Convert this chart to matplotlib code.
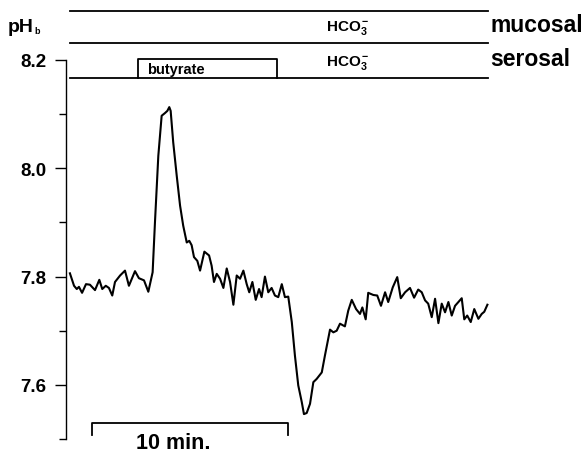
import matplotlib
matplotlib.use('Agg')
import matplotlib.pyplot as plt
from matplotlib.ticker import MultipleLocator

plt.rcParams['font.family'] = ['Liberation Sans', 'DejaVu Sans']
plt.rcParams['mathtext.fontset'] = 'custom'
plt.rcParams['mathtext.rm'] = 'Liberation Sans:bold'
plt.rcParams['mathtext.it'] = 'Liberation Sans:bold'
plt.rcParams['mathtext.bf'] = 'Liberation Sans:bold'

# time (min) and pH of the bath
time_min = [0.20, 0.41, 0.55, 0.66, 0.82, 1.02, 1.22, 1.48, 1.70, 1.85, 2.03, 2.19, 2.36, 2.50,
            2.76, 3.01, 3.21, 3.52, 3.72, 3.98, 4.20, 4.42, 4.54, 4.71, 4.88, 5.05, 5.17, 5.27,
            5.34, 5.47, 5.65, 5.82, 5.98, 6.16, 6.29, 6.41, 6.53, 6.70, 6.84, 7.06, 7.30, 7.43,
            7.55, 7.69, 7.86, 8.03, 8.20, 8.37, 8.54, 8.71, 8.88, 9.05, 9.22, 9.35, 9.51, 9.68,
            9.85, 9.98, 10.15, 10.32, 10.49, 10.66, 10.83, 11.01, 11.17, 11.34, 11.52, 11.68,
            11.85, 12.03, 12.14, 12.28, 12.45, 12.62, 12.79, 13.05, 13.21, 13.47, 13.64, 13.81,
            13.98, 14.23, 14.40, 14.58, 14.80, 15.00, 15.12, 15.29, 15.42, 15.68, 15.88, 16.07,
            16.28, 16.44, 16.67, 16.90, 17.08, 17.30, 17.55, 17.76, 17.97, 18.15, 18.32, 18.48,
            18.66, 18.83, 19.00, 19.17, 19.34, 19.51, 19.68, 19.85, 20.19, 20.32, 20.47, 20.65,
            20.83, 21.04, 21.21, 21.34, 21.50]
ph_b = [7.806, 7.783, 7.777, 7.781, 7.770, 7.786, 7.785, 7.775, 7.794, 7.777, 7.783, 7.779,
        7.765, 7.790, 7.802, 7.811, 7.783, 7.810, 7.797, 7.793, 7.772, 7.808, 7.901, 8.023,
        8.097, 8.102, 8.106, 8.113, 8.106, 8.048, 7.986, 7.931, 7.894, 7.863, 7.866, 7.858,
        7.836, 7.829, 7.811, 7.846, 7.839, 7.820, 7.790, 7.805, 7.796, 7.779, 7.815, 7.790,
        7.748, 7.802, 7.796, 7.811, 7.786, 7.771, 7.790, 7.757, 7.777, 7.762, 7.800, 7.771,
        7.779, 7.765, 7.762, 7.786, 7.762, 7.763, 7.716, 7.654, 7.599, 7.568, 7.546, 7.548,
        7.565, 7.605, 7.611, 7.623, 7.654, 7.702, 7.697, 7.700, 7.713, 7.708, 7.737, 7.757,
        7.740, 7.731, 7.743, 7.721, 7.770, 7.766, 7.765, 7.746, 7.771, 7.753, 7.780, 7.799,
        7.760, 7.771, 7.779, 7.761, 7.776, 7.771, 7.756, 7.750, 7.725, 7.759, 7.714, 7.750,
        7.734, 7.753, 7.728, 7.746, 7.760, 7.721, 7.728, 7.716, 7.740, 7.722, 7.731, 7.735,
        7.748]

# perfusion periods (min)
header_start, header_end = 0.2, 21.53
butyrate_on, butyrate_off = 3.67, 10.78
scale_start, scale_len = 1.33, 10

fig = plt.figure(figsize=(5.83, 4.56), dpi=100)
ax = fig.add_axes([66 / 583, 16 / 456, 431.2 / 583, 379 / 456])

ax.plot(time_min, ph_b, color='black', linewidth=1.5)

ax.set_xlim(0, 22)
ax.set_ylim(7.5, 8.2)
for s in ['top', 'right', 'bottom']:
    ax.spines[s].set_visible(False)
ax.spines['left'].set_linewidth(1.0)
ax.set_xticks([])
ax.set_yticks([7.6, 7.8, 8.0, 8.2])
ax.set_yticklabels(['7.6', '7.8', '8.0', '8.2'], fontsize=13.5, fontweight='bold')
ax.yaxis.set_minor_locator(MultipleLocator(0.1))
ax.tick_params(axis='y', which='major', direction='out', length=8, width=1.0, pad=6)
ax.tick_params(axis='y', which='minor', direction='out', length=5, width=1.0)

# header: solution lines, y in axes fraction
tr = ax.get_xaxis_transform()
for yy in [1.129, 1.045, 0.952]:
    ax.plot([header_start, header_end], [yy, yy], transform=tr, color='black',
            linewidth=1.3, clip_on=False)
ax.plot([butyrate_on, butyrate_on, butyrate_off, butyrate_off], [0.952, 1.003, 1.003, 0.952],
        transform=tr, color='black', linewidth=1.3, clip_on=False)
ax.text((butyrate_on + butyrate_off) / 2 - 1.6, 0.977, 'butyrate', transform=tr,
        ha='center', va='center', fontsize=10.5, fontweight='bold')
ax.text(14.4, 1.087, r'HCO$_3^-$', transform=tr, ha='center', va='center',
        fontsize=11, fontweight='bold')
ax.text(14.4, 0.995, r'HCO$_3^-$', transform=tr, ha='center', va='center',
        fontsize=11, fontweight='bold')

fig.text(490 / 583, 1 - 25 / 456, 'mucosal', ha='left', va='center', fontsize=16.5, fontweight='bold')
fig.text(490 / 583, 1 - 60 / 456, 'serosal', ha='left', va='center', fontsize=16.5, fontweight='bold')
fig.text(8 / 583, 1 - 27 / 456, 'pH', ha='left', va='center', fontsize=14, fontweight='bold')
fig.text(34 / 583, 1 - 32 / 456, 'b', ha='left', va='center', fontsize=6.5, fontweight='bold')

# 10 min scale bar
ax.plot([scale_start, scale_start, scale_start + scale_len, scale_start + scale_len],
        [0.011, 0.042, 0.042, 0.011], transform=tr, color='black', linewidth=1.3, clip_on=False)
ax.text(scale_start + scale_len / 2 - 0.85, -0.01, '10 min.', transform=tr, ha='center',
        va='center', fontsize=15.5, fontweight='bold')

plt.savefig('out.png', dpi=100, facecolor='white')
